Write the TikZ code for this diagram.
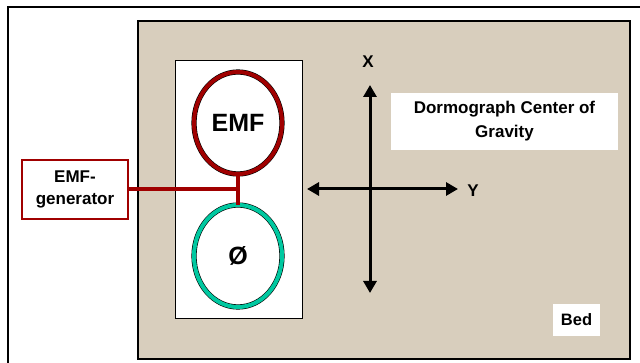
\documentclass[tikz,border=0pt]{standalone}
\usepackage{fontspec}
\setmainfont{Liberation Sans}
\usetikzlibrary{shapes.geometric,arrows.meta}
\definecolor{bedfill}{RGB}{216,206,189}
\definecolor{emfred}{RGB}{160,0,0}
\definecolor{ringteal}{RGB}{0,200,160}
\begin{document}
\begin{tikzpicture}[x=1pt,y=-1pt,
  lbl/.style={font=\bfseries\fontsize{17}{22}\selectfont, align=center, inner sep=0pt},
  whitebox/.style={fill=white, inner sep=0pt},
  ring/.style={ellipse, draw=black, line width=0.6pt, double distance=4pt, fill=white,
     minimum width=88pt, minimum height=102pt, inner sep=0pt,
     font=\bfseries\fontsize{25}{28}\selectfont},
  axis/.style={line width=3pt, {Triangle[length=12pt,width=13pt]}-{Triangle[length=12pt,width=13pt]}},
  redline/.style={draw=emfred, line width=4pt}]
\useasboundingbox (0,0) rectangle (640,363);
\fill[white] (0,0) rectangle (640,363);
% outer frame
\draw[line width=2.5pt] (8,364) -- (8,7) -- (641,7);
% bed
\node[draw=black, line width=1.8pt, fill=bedfill, minimum width=492pt, minimum height=338pt,
      inner sep=0pt] (bed) at (384,190) {};
% inner white panel
\node[draw=black, line width=0.8pt, fill=white, minimum width=127pt, minimum height=258pt,
      inner sep=0pt] (panel) at (238.5,189) {};
% rings
\node[ring, double=emfred] (emf) at (238,123) {EMF};
\node[ring, double=ringteal] (phi) at (238,256) {Ø};
% generator box
\node[draw=emfred, line width=2.2pt, fill=white, minimum width=106pt, minimum height=59pt,
      lbl] (gen) at (75,189.5) {EMF-\\generator};
% connectors
\coordinate (junc) at (gen.east -| emf.south);
\draw[redline] (emf.south) -- (phi.north);
\draw[redline] (gen.east) -- (junc);
% axes
\coordinate (xt) at (370,85);
\coordinate (xb) at (370,293);
\coordinate (yl) at (307,189);
\coordinate (yr) at (458,189);
\draw[axis] (xb) -- (xt);
\draw[axis] (yl) -- (yr);
\node[lbl] (xlab) at (368,62) {X};
\node[lbl] (ylab) at (473,191) {Y};
% labels
\node[whitebox, minimum width=227pt, minimum height=57pt, lbl, font=\bfseries\fontsize{17}{24}\selectfont]
   (cog) at (504.5,121.5) {Dormograph Center of\\Gravity};
\node[whitebox, minimum width=47pt, minimum height=32pt, lbl, font=\bfseries\fontsize{16.5}{20}\selectfont]
   (bedlab) at (576.5,320) {Bed};
\end{tikzpicture}
\end{document}
